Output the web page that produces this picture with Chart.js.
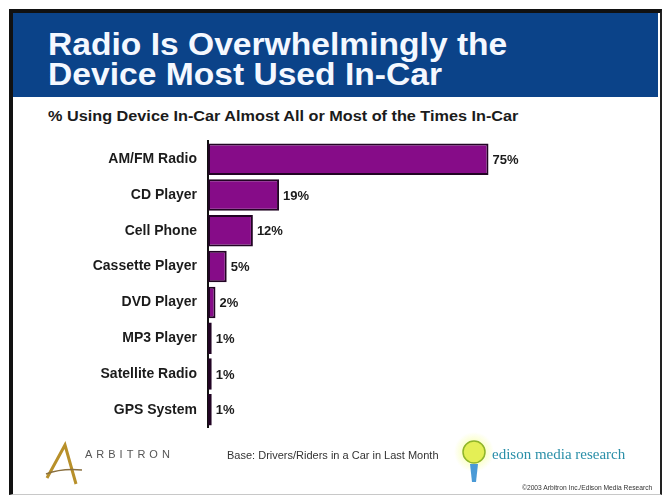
<!DOCTYPE html>
<html>
<head>
<meta charset="utf-8">
<script src="https://cdn.jsdelivr.net/npm/chart.js@4"></script>
<style>
  html, body { margin: 0; padding: 0; background: #fff; }
  body { width: 662px; height: 495px; position: relative; overflow: hidden; font-family: "Liberation Sans", Arial, sans-serif; }
  .abs { position: absolute; white-space: nowrap; }
  #frame { left: 9px; top: 9px; width: 647px; height: 481px; border-top: 4px solid #111; border-left: 4px solid #111; border-right: 2px solid #222; border-bottom: 1px solid #c8c8c8; }
  #header { left: 13px; top: 13px; width: 645px; height: 84px; background: #0b4389; }
  #title { left: 48px; top: 29px; color: #f4f8ff; font-weight: bold; font-size: 32px; line-height: 30px; transform: scaleX(1.05); transform-origin: left top; }
  #subtitle { left: 48px; top: 109px; color: #1b1b1b; font-weight: bold; font-size: 14px; line-height: 14px; transform: scaleX(1.16); transform-origin: left top; }
  #chart { left: 0; top: 122px; }
  #arbitron { left: 85px; top: 449px; font-size: 11px; line-height: 11px; letter-spacing: 4px; color: #555; }
  #base { left: 227px; top: 450px; font-size: 11px; line-height: 11px; color: #333; }
  #edison { left: 492px; top: 447px; font-family: "Liberation Serif", "DejaVu Serif", serif; font-size: 15px; line-height: 15px; color: #2a8fa8; }
  #copy { left: 522px; top: 484px; font-size: 6.7px; line-height: 7px; color: #333; }
</style>
</head>
<body>
<div id="frame" class="abs"></div>
<div id="header" class="abs"></div>
<div id="title" class="abs">Radio Is Overwhelmingly the<br>Device Most Used In-Car</div>
<div id="subtitle" class="abs">% Using Device In-Car Almost All or Most of the Times In-Car</div>
<canvas id="chart" class="abs" width="662" height="325"></canvas>

<svg class="abs" style="left:0;top:0" width="662" height="495">
  <defs>
    <radialGradient id="glow">
      <stop offset="0" stop-color="#f4ff80" stop-opacity="0.9"/>
      <stop offset="1" stop-color="#f4ff80" stop-opacity="0"/>
    </radialGradient>
  </defs>
  <!-- Arbitron "A" -->
  <polyline points="47,478 65,445 76,484" fill="none" stroke="#b8902a" stroke-width="3"/>
  <path d="M46,474 Q62,468 82,470" fill="none" stroke="#8a7040" stroke-width="1.5"/>
  <!-- edison bulb -->
  <circle cx="474" cy="452" r="20" fill="url(#glow)"/>
  <circle cx="474" cy="452" r="11" fill="#e4ef55" stroke="#8fb52a" stroke-width="1.5"/>
  <path d="M470,464 L478,464 L476,482 L472,482 Z" fill="#4a9ad6"/>
</svg>
<div id="arbitron" class="abs">ARBITRON</div>
<div id="base" class="abs">Base: Drivers/Riders in a Car in Last Month</div>
<div id="edison" class="abs">edison media research</div>
<div id="copy" class="abs">©2003 Arbitron Inc./Edison Media Research</div>

<script>
const devices = ['AM/FM Radio', 'CD Player', 'Cell Phone', 'Cassette Player',
  'DVD Player', 'MP3 Player', 'Satellite Radio', 'GPS System'];
const shares = [75, 19, 12, 5, 2, 1, 1, 1];

// prints "75%" etc. just past the end of every bar
const valueLabels = {
  id: 'valueLabels',
  afterDatasetsDraw(chart) {
    const ctx = chart.ctx;
    const bars = chart.getDatasetMeta(0).data;
    ctx.save();
    ctx.font = 'bold 13px "Liberation Sans", Arial, sans-serif';
    ctx.fillStyle = '#1b1b1b';
    ctx.textAlign = 'left';
    ctx.textBaseline = 'middle';
    bars.forEach((bar, i) => {
      ctx.fillText(shares[i] + '%', bar.x + 4, bar.y + 1);
    });
    ctx.restore();
  }
};

new Chart(document.getElementById('chart'), {
  type: 'bar',
  data: {
    labels: devices,
    datasets: [{
      data: shares,
      backgroundColor: '#860c88',
      borderColor: '#220424',
      borderWidth: 2,
      borderSkipped: false,
      categoryPercentage: 1,
      barPercentage: 0.88
    }]
  },
  options: {
    indexAxis: 'y',
    responsive: false,
    animation: false,
    layout: { padding: { left: 8, right: 80, top: 4, bottom: 4 } },
    plugins: { legend: { display: false }, tooltip: { enabled: false } },
    scales: {
      x: { display: false, min: 0, max: 100 },
      y: {
        afterFit(scale) { scale.width = 200; },
        grid: { display: false, drawTicks: false },
        border: { display: true, color: '#111', width: 2 },
        ticks: {
          padding: 11,
          color: '#1b1b1b',
          font: { family: '"Liberation Sans", Arial, sans-serif', size: 14, weight: 'bold' }
        }
      }
    }
  },
  plugins: [valueLabels]
});
</script>
</body>
</html>
